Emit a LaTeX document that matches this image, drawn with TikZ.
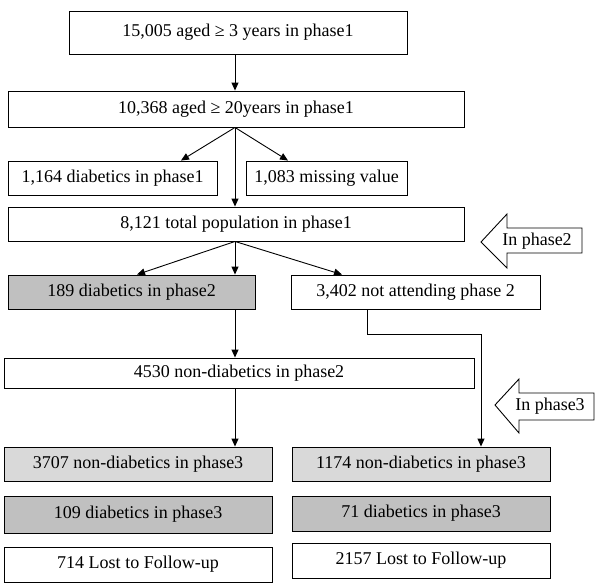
\documentclass[tikz,border=0pt]{standalone}
\usepackage{fontspec}
\setmainfont{Liberation Serif}
\usetikzlibrary{arrows.meta,calc}
\definecolor{darkfill}{RGB}{192,192,192}
\definecolor{lightfill}{RGB}{217,217,217}
\begin{document}
\begin{tikzpicture}[x=1pt,y=-1pt,
  box/.style={draw=black,line width=0.9pt,inner sep=0pt,anchor=center,
    font=\fontsize{18}{20}\selectfont},
  arr/.style={line width=0.9pt,-{Triangle[length=8pt,width=7pt]}},
  conn/.style={line width=0.9pt},
  bigarrow/.style={draw=black,line width=0.9pt,fill=white}]
\useasboundingbox (0,0) rectangle (600,587);
\coordinate (sp) at (235,0);
% nodes
\node[box,minimum width=338,minimum height=43] (n1) at (238,32.5) {15,005 aged ≥ 3 years in phase1};
\node[box,minimum width=456,minimum height=36] (n2) at (236,109) {10,368 aged ≥ 20years in phase1};
\node[box,minimum width=209,minimum height=34] (n3) at (112.5,178) {1,164 diabetics in phase1};
\node[box,minimum width=161,minimum height=34] (n4) at (326.5,178) {1,083 missing value};
\node[box,minimum width=456,minimum height=34] (n5) at (236,224) {8,121 total population in phase1};
\node[box,fill=darkfill,minimum width=247,minimum height=34] (n6) at (131.5,292) {189 diabetics in phase2};
\node[box,minimum width=249,minimum height=34] (n7) at (415.5,292) {3,402 not attending phase 2};
\node[box,minimum width=470,minimum height=30] (n8) at (239,373) {4530 non-diabetics in phase2};
\node[box,fill=lightfill,minimum width=268,minimum height=34] (n9) at (138,464) {3707 non-diabetics in phase3};
\node[box,fill=lightfill,minimum width=258,minimum height=34] (n10) at (421,464) {1174 non-diabetics in phase3};
\node[box,fill=darkfill,minimum width=268,minimum height=37] (n11) at (138,514.5) {109 diabetics in phase3};
\node[box,fill=darkfill,minimum width=258,minimum height=35] (n12) at (421,513.5) {71 diabetics in phase3};
\node[box,minimum width=268,minimum height=35] (n13) at (138,564.5) {714 Lost to Follow-up};
\node[box,minimum width=258,minimum height=35] (n14) at (421,560.5) {2157 Lost to Follow-up};
% connectors
\draw[arr] (n1.south -| sp) -- (n2.north -| sp);
\draw[arr] (n2.south -| sp) -- ([xshift=68.5]n3.north);
\draw[arr] (n2.south -| sp) -- ([xshift=-38.5]n4.north);
\draw[arr] (n2.south -| sp) -- (n5.north -| sp);
\draw[arr] (n5.south -| sp) -- ([xshift=5.5]n6.north);
\draw[arr] (n5.south -| sp) -- (n6.north -| sp);
\draw[arr] (n5.south -| sp) -- ([xshift=-73.5]n7.north);
\draw[arr] (n6.south -| sp) -- (n8.north -| sp);
\draw[arr] (n8.south -| sp) -- (n9.north -| sp);
\coordinate (e1) at (367,334);
\coordinate (e2) at (481,334);
\draw[conn] (n7.south -| e1) -- (e1) -- (e2);
\draw[arr] (e2) -- (n10.north -| e2);
% phase arrows
\draw[bigarrow] (481,242) -- (507,214) -- (507,228) -- (582,228) -- (582,253) -- (507,253) -- (507,268) -- cycle;
\node[font=\fontsize{18}{20}\selectfont,inner sep=0pt] (p2) at (537,241) {In phase2};
\draw[bigarrow] (495,405) -- (519,379) -- (519,393) -- (594,393) -- (594,420) -- (519,420) -- (519,433) -- cycle;
\node[font=\fontsize{18}{20}\selectfont,inner sep=0pt] (p3) at (550,406) {In phase3};
\end{tikzpicture}
\end{document}
